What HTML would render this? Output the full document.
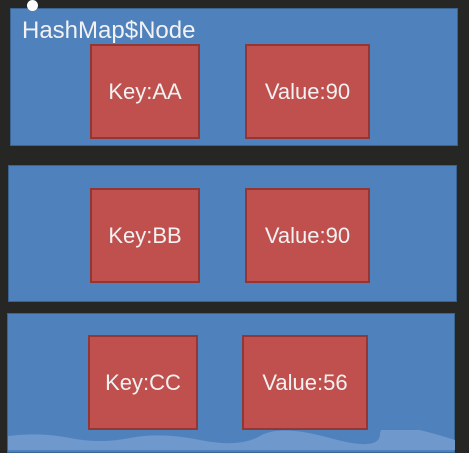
<!DOCTYPE html>
<html><head><style>
body{margin:0;width:469px;height:450px;background:#262624;position:relative;overflow:hidden;font-family:"Liberation Sans","DejaVu Sans",sans-serif}
.b{position:absolute;background:#4f81bd;border:1px solid #3a6494;box-sizing:border-box}
.r{position:absolute;background:#c0504d;border:2px solid #943634;box-sizing:border-box;color:#f2f2f2;font-size:22px;display:flex;align-items:center;justify-content:center}
</style></head><body>
<div class="b" style="left:10px;top:8px;width:448px;height:138px"></div>
<div style="position:absolute;left:22px;top:17px;color:#f2f2f2;font-size:24px">HashMap$Node</div>
<div style="position:absolute;left:27px;top:0;width:11px;height:11px;border-radius:50%;background:#fff"></div>
<div class="r" style="left:90px;top:44px;width:110px;height:95px">Key:AA</div>
<div class="r" style="left:245px;top:44px;width:125px;height:95px">Value:90</div>
<div class="b" style="left:8px;top:165px;width:449px;height:137px"></div>
<div class="r" style="left:90px;top:188px;width:110px;height:95px">Key:BB</div>
<div class="r" style="left:245px;top:188px;width:125px;height:95px">Value:90</div>
<div class="b" style="left:7px;top:313px;width:448px;height:140px"></div>
<div class="r" style="left:88px;top:335px;width:110px;height:95px">Key:CC</div>
<div class="r" style="left:242px;top:335px;width:126px;height:95px">Value:56</div>
<svg style="position:absolute;left:0;top:430px" width="469" height="20"><path d="M8 6 Q40 2 70 8 T130 8 T200 10 T260 6 T330 8 T380 4 T455 10 L455 20 L8 20Z" fill="#6f98cc"/></svg>
</body></html>
